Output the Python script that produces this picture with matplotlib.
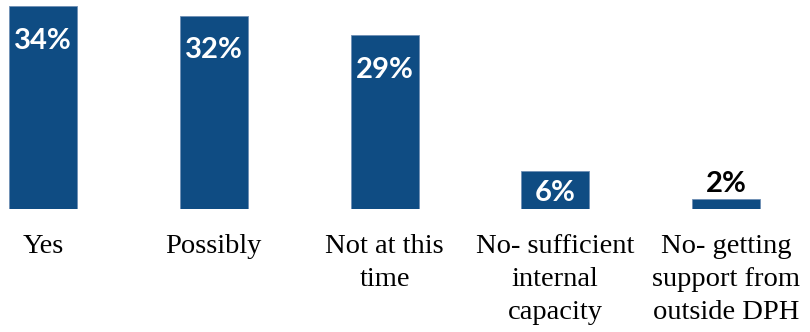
import matplotlib
matplotlib.use("Agg")
import matplotlib.pyplot as plt

categories = ["Yes", "Possibly", "Not at this\ntime", "No- sufficient\ninternal\ncapacity",
              "No- getting\nsupport from\noutside DPH"]
values = [33.8, 32.2, 29.0, 6.3, 1.6]

W, H, DPI = 810, 332, 100
fig = plt.figure(figsize=(W / DPI, H / DPI), dpi=DPI)
bottom_px = 209
ax = fig.add_axes([0, (H - bottom_px) / H, 1, bottom_px / H])
spacing = 170.75
ax.set_xlim(-43 / spacing, (W - 43) / spacing)
ax.set_ylim(0, bottom_px / 6.0)
ax.axis("off")

color = "#0F4C83"
x = list(range(len(values)))
ax.bar(x, values, width=68 / spacing, color=color, edgecolor="#6f8fb5", linewidth=0.6)

for i, v in enumerate(values):
    lab = f"{round(v)}%"
    kw = dict(ha="center", va="center_baseline", fontsize=21, fontweight="bold",
              family=["Lato", "DejaVu Sans"], textcoords="offset pixels")
    if v > 20:
        ax.annotate(lab, (i, v), xytext=(0, -32), color="white", **kw)
    elif v > 4:
        ax.annotate(lab, (i, v / 2), xytext=(0, 0), color="white", **kw)
    else:
        ax.annotate(lab, (i, v), xytext=(0, 18), color="black", **kw)
    ax.annotate(categories[i], (i, 0), xytext=(0, -25), textcoords="offset pixels",
                ha="center", va="top", fontsize=20.5, family=["Liberation Serif"],
                linespacing=1.42, annotation_clip=False)

fig.savefig("out.png", dpi=DPI)
